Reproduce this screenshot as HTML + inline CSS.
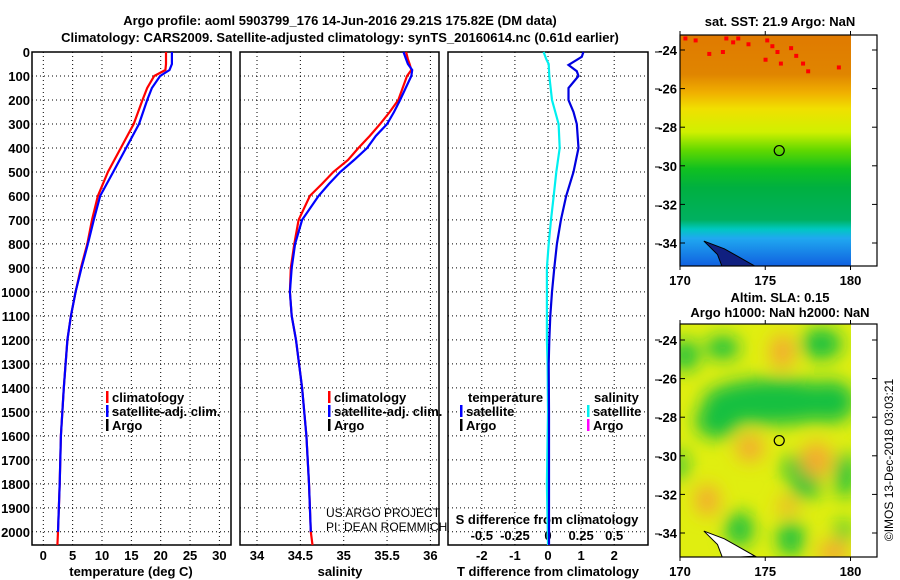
<!DOCTYPE html>
<html><head><meta charset="utf-8">
<style>
body{margin:0;background:#fff;}
svg{display:block;font-family:"Liberation Sans",Arial,sans-serif;}
.b{font-weight:bold;font-size:13px;}
</style></head>
<body>
<svg id="fig" width="900" height="580" viewBox="0 0 900 580" xmlns="http://www.w3.org/2000/svg">
<defs>
<linearGradient id="sstg" x1="0" y1="0" x2="0" y2="1">
<stop offset="0" stop-color="#e07a00"/><stop offset="0.17" stop-color="#e08500"/>
<stop offset="0.25" stop-color="#f0b000"/><stop offset="0.32" stop-color="#f0e000"/>
<stop offset="0.42" stop-color="#d0f000"/><stop offset="0.5" stop-color="#60d800"/>
<stop offset="0.58" stop-color="#10c020"/><stop offset="0.66" stop-color="#00b040"/>
<stop offset="0.8" stop-color="#00b060"/><stop offset="0.84" stop-color="#00c8c0"/>
<stop offset="0.88" stop-color="#20a8f0"/><stop offset="1" stop-color="#1060e0"/>
</linearGradient>
<filter id="blur" x="-50%" y="-50%" width="200%" height="200%"><feGaussianBlur stdDeviation="9"/></filter>
<clipPath id="c1"><rect x="680" y="35" width="171" height="231"/></clipPath>
<clipPath id="c2"><rect x="680" y="324" width="171" height="233"/></clipPath>
</defs>
<text class="b" x="340" y="25" text-anchor="middle">Argo profile: aoml 5903799_176 14-Jun-2016 29.21S 175.82E (DM data)</text>
<text class="b" x="340" y="42" text-anchor="middle">Climatology: CARS2009. Satellite-adjusted climatology: synTS_20160614.nc (0.61d earlier)</text>
<g id="plots"></g>
<g id="maps"></g>
</svg>
<script>
// ---- data ----
const tDepth = [0,50,75,100,150,200,300,400,500,600,700,800,900,1000,1100,1200,1400,1600,1800,2000,2055];
const tClim  = [20.9,20.9,20.8,18.9,17.7,16.9,15.4,13.2,11.0,9.3,8.3,7.5,6.4,5.5,4.7,4.1,3.5,3.0,2.8,2.5,2.4];
const tSat   = [21.9,21.9,21.5,19.9,18.5,17.7,16.3,14.1,11.9,9.7,8.6,7.6,6.5,5.5,4.7,4.1,3.5,3.0,2.8,2.5];
const sDepth = [0,30,50,75,100,200,250,300,350,400,450,500,550,600,700,800,900,1000,1100,1200,1400,1600,1800,2000,2055];
const sClim  = [35.72,35.74,35.76,35.78,35.73,35.63,35.53,35.42,35.30,35.17,35.05,34.88,34.75,34.61,34.48,34.43,34.39,34.38,34.40,34.45,34.52,34.57,34.60,34.62,34.64];
const sSat   = [35.69,35.72,35.74,35.79,35.78,35.65,35.58,35.50,35.37,35.27,35.12,34.96,34.83,34.71,34.52,34.44,34.40,34.38,34.40,34.45,34.52,34.57,34.60,34.62];
const dtDepth = [0,20,54,80,100,150,200,250,300,400,500,600,700,800,900,1000,1100,1200,1300,1500,1800,2055];
const dtSat   = [1.07,1.02,0.62,0.87,0.92,0.62,0.62,0.77,0.87,0.92,0.77,0.55,0.39,0.27,0.19,0.12,0.07,0.04,0.02,0.03,0.03,0.03];
const dsDepth = [0,30,50,100,200,250,300,400,500,600,700,800,900,1000,1200,1300,1500,1800,2055];
const dsSat   = [-0.033,-0.013,0.005,0.01,0.03,0.055,0.08,0.088,0.063,0.043,0.023,0.005,-0.008,-0.008,-0.008,-0.003,0,-0.008,0];
const depthTicks = [0,100,200,300,400,500,600,700,800,900,1000,1100,1200,1300,1400,1500,1600,1700,1800,1900,2000];
const tTicks = [0,5,10,15,20,25,30];
const sTicks = [34,34.5,35,35.5,36];
const dtTicks = [-2,-1,0,1,2];
const dsTicks = [-0.5,-0.25,0,0.25,0.5];
const dsTickLabels = ["-0.5","-0.25","0","0.25","0.5"];

const NS="http://www.w3.org/2000/svg";
const plots=document.getElementById('plots');
function mk(tag,attrs,parent){const e=document.createElementNS(NS,tag);for(const k in attrs)e.setAttribute(k,attrs[k]);(parent||plots).appendChild(e);return e;}
const Y0=52,Y1=545,DMAX=2055;
const yD=d=>Y0+(d/DMAX)*(Y1-Y0);
const panels=[
 {x0:32,x1:231,sx:v=>43.3+v*5.87,name:'temperature-panel'},
 {x0:240,x1:439,sx:v=>257+(v-34)*86.7,name:'salinity-panel'},
 {x0:448,x1:648,sx:v=>548+v*33.1,name:'difference-panel'}
];
const xT=panels[0].sx,xS=panels[1].sx,xDT=panels[2].sx,xDS=v=>548+v*4*33.1;
panels.forEach((p,i)=>{
 const g=mk('g',{});
 
 
 depthTicks.forEach(d=>{if(d>0){const l=mk('line',{x1:p.x0,x2:p.x1,y1:yD(d),y2:yD(d),stroke:'#000','stroke-dasharray':'1,3'},g);
  }});
 const vt=i==0?tTicks:i==1?sTicks:dtTicks;
 vt.forEach(v=>{const x=p.sx(v);const l=mk('line',{x1:x,x2:x,y1:Y0,y2:Y1,stroke:'#000','stroke-dasharray':'1,3'},g);
  
  const t=mk('text',{x:x,y:560,'text-anchor':'middle',class:'b'},g);t.textContent=String(v);
  });
 const r=mk('rect',{x:p.x0,y:Y0,width:p.x1-p.x0,height:Y1-Y0,fill:'none',stroke:'#000','stroke-width':1.5},g);
 
});
depthTicks.forEach(d=>{const t=mk('text',{x:30,y:yD(d)+5,'text-anchor':'end',class:'b'});t.textContent=String(d);
 });
dsTicks.forEach((v,i)=>{const t=mk('text',{x:xDS(v),y:540,'text-anchor':'middle',class:'b'});t.textContent=dsTickLabels[i];
 });
[[0,'temperature (deg C)',131],[1,'salinity',340],[2,'T difference from climatology',548]].forEach(a=>{
 const t=mk('text',{x:a[2],y:576,'text-anchor':'middle',class:'b'});t.textContent=a[1];
 });
{const t=mk('text',{x:547,y:524,'text-anchor':'middle',class:'b'});t.textContent='S difference from climatology';
 }
function series(ds,vs,fx,col,name){
 const pts=vs.map((v,i)=>fx(v).toFixed(1)+','+yD(ds[i]).toFixed(1)).join(' ');
 const l=mk('polyline',{points:pts,fill:'none',stroke:col,'stroke-width':2.2});
 
}
series(tDepth,tClim,xT,'#f00','temperature-climatology-line');
series(tDepth.slice(0,tSat.length),tSat,xT,'#00f','temperature-satellite-line');
series(sDepth,sClim,xS,'#f00','salinity-climatology-line');
series(sDepth.slice(0,sSat.length),sSat,xS,'#00f','salinity-satellite-line');
series(dsDepth,dsSat,xDS,'#00f0f0','salinity-difference-line');
series(dtDepth,dtSat,xDT,'#0000e0','temperature-difference-line');
function leg(x,y,col,txt,name){const g=mk('g',{});
 if(col)mk('rect',{x:x,y:y-11,width:2.5,height:12,fill:col},g);
 const t=mk('text',{x:x+(col?6:0),y:y,class:'b'},g);t.textContent=txt;}
leg(106,402,'#f00','climatology','legend-climatology');
leg(106,416,'#00f','satellite-adj. clim.','legend-satellite');
leg(106,430,'#000','Argo','legend-argo');
leg(328,402,'#f00','climatology','legend-climatology');
leg(328,416,'#00f','satellite-adj. clim.','legend-satellite');
leg(328,430,'#000','Argo','legend-argo');
leg(468,402,null,'temperature','legend-temperature-header');
leg(460,416,'#00f','satellite','legend-t-satellite');
leg(460,430,'#000','Argo','legend-t-argo');
leg(594,402,null,'salinity','legend-salinity-header');
leg(587,416,'#00f0f0','satellite','legend-s-satellite');
leg(587,430,'#f0f','Argo','legend-s-argo');
{const t=mk('text',{x:326,y:517,'font-size':'12'});t.textContent='US ARGO PROJECT';
 const u=mk('text',{x:326,y:531,'font-size':'12'});u.textContent='PI: DEAN ROEMMICH';}
[52,89,128,167,206,244,340,380,418,457,496,534].forEach(y=>{const l=mk('line',{x1:655,x2:660,y1:y,y2:y,stroke:'#000'});});

// ---- maps ----
const M=document.getElementById('maps');
const lonTicks=[170,175,180];
const latTicks=[-24,-26,-28,-30,-32,-34];
const floatLon=175.82, floatLat=-29.21;
const mx=lon=>680+(lon-170)*17.05;
const greenBlobs=[[175.5,-27.2,4.2,1.2],[172.2,-28.2,1.3,0.9],[178.8,-27.2,1.5,1.1],[170.3,-24.8,0.8,0.8],[178.3,-24.2,1.2,0.8],[172.5,-24.4,1,0.6],[176.6,-30.6,0.6,0.6],[177.4,-31.6,0.9,0.6],[173.5,-33.8,0.8,0.9],[176.5,-34.3,0.8,0.9],[179.7,-31,0.6,1.2],[179.6,-33.9,0.5,0.5],[170,-30.5,0.4,0.8]];
const orangeBlobs=[[174.1,-29.6,0.8,0.7],[178,-30.2,0.9,0.9],[171.6,-32.3,0.7,0.8],[176,-24.6,0.7,0.9],[179,-35,0.9,0.6],[176.3,-32.6,0.6,0.4]];
const redCells=[[170.2,-23.3],[170.8,-23.4],[172.6,-23.3],[173,-23.5],[173.3,-23.3],[172.4,-24.0],[171.6,-24.1],[175,-23.4],[175.3,-23.7],[175.6,-24],[174.9,-24.4],[176.4,-23.8],[176.7,-24.2],[175.8,-24.6],[177.1,-24.6],[177.4,-25],[179.2,-24.8],[173.9,-23.6]];
function mapPanel(yTop,yBot,lat24,lat34,clip,titles,titleY,name,isSST){
 const g=mk('g',{},M);
 const my=lat=>lat24+(lat+24)*(lat34-lat24)/(-10);
 const c=mk('g',{'clip-path':'url(#'+clip+')'},g);
 if(isSST){mk('rect',{x:680,y:yTop,width:171,height:yBot-yTop,fill:'url(#sstg)'},c);
  redCells.forEach(p=>mk('rect',{x:mx(p[0]),y:my(p[1]),width:4,height:4,fill:'#f00'},c));
 } else {
  mk('rect',{x:680,y:yTop,width:171,height:yBot-yTop,fill:'#e0ee10'},c);
  const bg=mk('g',{filter:'url(#blur)'},c);
  orangeBlobs.forEach(b=>mk('ellipse',{cx:mx(b[0]),cy:my(b[1]),rx:b[2]*17,ry:b[3]*19.3,fill:'#f4a830'},bg));
  greenBlobs.forEach(b=>mk('ellipse',{cx:mx(b[0]),cy:my(b[1]),rx:b[2]*17,ry:b[3]*19.3,fill:'#18c040'},bg));
 }
 const land=mk('path',{d:`M${mx(171.4)},${my(-33.9)} L${mx(172.6)},${my(-34.3)} L${mx(173.2)},${my(-34.6)} L${mx(174.4)},${my(-35.2)} L${mx(172.5)},${my(-35.3)} L${mx(172.2)},${my(-34.6)} Z`,fill:isSST?'#102080':'#fff',stroke:'#000','stroke-width':1},c);
 
 mk('rect',{x:680,y:yTop,width:197,height:yBot-yTop,fill:'none',stroke:'#000','stroke-width':1.2},g);
 const circ=mk('circle',{cx:mx(floatLon),cy:my(floatLat),r:5,fill:'none',stroke:'#000','stroke-width':1.2},g);
 
 latTicks.forEach(l=>{const y=my(l);mk('line',{x1:680,x2:685,y1:y,y2:y,stroke:'#000'},g);mk('line',{x1:872,x2:877,y1:y,y2:y,stroke:'#000'},g);
  const t=mk('text',{x:677,y:y+5,class:'b','text-anchor':'end'},g);t.textContent=String(l);
  });
 lonTicks.forEach(l=>{const x=mx(l);mk('line',{x1:x,x2:x,y1:yTop,y2:yTop-4,stroke:'#000'},g);mk('line',{x1:x,x2:x,y1:yBot,y2:yBot+4,stroke:'#000'},g);
  const t=mk('text',{x:x,y:yBot+19,class:'b','text-anchor':'middle'},g);t.textContent=String(l);
  });
 titles.forEach((s,i)=>{const t=mk('text',{x:780,y:titleY[i],'text-anchor':'middle',class:'b','font-size':'12'},g);t.textContent=s;
  });
}
mapPanel(35,266,50,243,'c1',['sat. SST: 21.9 Argo: NaN'],[26],'sst-map',true);
mapPanel(324,557,340,533,'c2',['Altim. SLA: 0.15','Argo h1000: NaN h2000: NaN'],[302,317],'sla-map',false);
{const t=mk('text',{x:893,y:460,'text-anchor':'middle','font-size':'12',transform:'rotate(-90 893 460)'},M);t.textContent='©IMOS 13-Dec-2018 03:03:21';
 }
</script>
</body></html>
